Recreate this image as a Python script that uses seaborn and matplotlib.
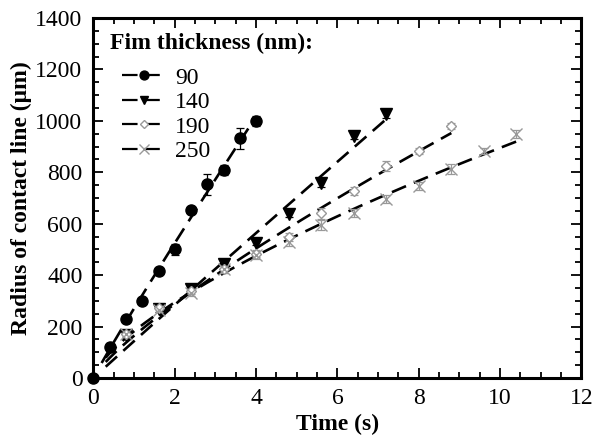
import numpy as np
import pandas as pd
import matplotlib
matplotlib.use("Agg")
import matplotlib.pyplot as plt
from matplotlib.lines import Line2D
from matplotlib.ticker import MultipleLocator
import seaborn as sns

# Contact-line radius (um) vs. time (s) for four film thicknesses
t_90 = [0.0, 0.4, 0.8, 1.2, 1.6, 2.0, 2.4, 2.8, 3.2, 3.6, 4.0]
r_90 = [0, 120, 230, 300, 418, 500, 652, 753, 808, 932, 1000]
e_90 = [0, 15, 10, 10, 10, 20, 10, 40, 20, 40, 20]

t_140 = [0.8, 1.6, 2.4, 3.2, 4.0, 4.8, 5.6, 6.4, 7.2]
r_140 = [167, 267, 345, 442, 526, 636, 758, 941, 1025]
e_140 = [10, 10, 10, 15, 10, 10, 15, 10, 15]

t_190 = [0.8, 1.6, 2.4, 3.2, 4.0, 4.8, 5.6, 6.4, 7.2, 8.0, 8.8]
r_190 = [172, 273, 338, 422, 484, 548, 640, 727, 824, 883, 980]
e_190 = [10, 10, 10, 15, 15, 15, 20, 15, 20, 10, 10]

t_250 = [0.8, 1.6, 2.4, 3.2, 4.0, 4.8, 5.6, 6.4, 7.2, 8.0, 8.8, 9.6, 10.4]
r_250 = [170, 265, 330, 425, 478, 530, 595, 643, 695, 747, 812, 883, 950]
e_250 = [10, 10, 10, 15, 15, 15, 20, 15, 15, 15, 20, 10, 15]

labels = ["90", "140", "190", "250"]
x_ticks = [0, 2, 4, 6, 8, 10, 12]
y_ticks = [0, 200, 400, 600, 800, 1000, 1200, 1400]

GREY = "#999999"
series = [
    (labels[0], t_90, r_90, e_90, "o", "black", "black", 8.0, 0.2),
    (labels[1], t_140, r_140, e_140, "v", "black", "black", 8.0, 0.3),
    (labels[2], t_190, r_190, e_190, "D", "white", GREY, 5.5, 0.3),
    (labels[3], t_250, r_250, e_250, "x", GREY, GREY, 9.0, 0.3),
]


def power_fit(t, r):
    """Least-squares fit of r = a * t**n (grid over n, closed form for a)."""
    best = None
    for n in np.linspace(0.3, 1.6, 1301):
        tn = t ** n
        a = np.sum(r * tn) / np.sum(tn * tn)
        sse = np.sum((r - a * tn) ** 2)
        if best is None or sse < best[0]:
            best = (sse, a, n)
    return best[1], best[2]


sns.set_theme(style="ticks")
plt.rcParams["font.family"] = ["Liberation Serif", "DejaVu Serif"]
plt.rcParams["text.color"] = "black"
plt.rcParams["axes.labelcolor"] = "black"

fig = plt.figure(figsize=(5.94, 4.42), dpi=100)
ax = fig.add_axes([0.1574, 0.1448, 0.8215, 0.8145])

handles = []
for name, t, r, e, mk, fc, ec, ms, t0 in series:
    t = np.asarray(t, float)
    r = np.asarray(r, float)
    a, n = power_fit(t, r)
    tf = np.linspace(t0, t.max(), 200)
    fit = pd.DataFrame({"t": tf, "r": a * tf ** n})
    sns.lineplot(data=fit, x="t", y="r", ax=ax, color="black", lw=1.9,
                 linestyle=(0, (5.8, 3.2)), zorder=2)
    ax.errorbar(t, r, yerr=e, fmt="none", ecolor=ec, elinewidth=0.9,
                capsize=3, capthick=0.9, zorder=3, clip_on=False)
    ax.plot(t, r, linestyle="none", marker=mk, ms=ms, mfc=fc, mec=ec,
            mew=1.0, zorder=4, clip_on=False)
    handles.append(Line2D([], [], color="black", lw=1.6, linestyle=(0, (7, 3)),
                          marker=mk, ms=ms * 0.8, mfc=fc, mec=ec))

ax.set_xlim(0, 12)
ax.set_ylim(0, 1400)
ax.set_xticks(x_ticks)
ax.set_yticks(y_ticks)
ax.xaxis.set_minor_locator(MultipleLocator(0.5))
ax.yaxis.set_minor_locator(MultipleLocator(50))
ax.tick_params(which="both", direction="in", top=True, right=True,
               labelsize=17, colors="black", width=1.3)
ax.tick_params(which="major", length=7)
ax.tick_params(which="minor", length=4)
ax.tick_params(axis="x", pad=7)
ax.tick_params(axis="y", pad=8)
for s in ax.spines.values():
    s.set_linewidth(2.2)
    s.set_color("black")

ax.set_xlabel("Time (s)", fontsize=17, fontweight="bold", labelpad=4,
              color="black")
ax.set_ylabel("Radius of contact line (μm)", fontsize=17, fontweight="bold",
              labelpad=2, color="black")

# legend title drawn as its own text so the entries sit indented below it
fig.text(110 / 594, 1 - 43 / 442, "Fim thickness (nm):", fontsize=17,
         fontweight="bold", ha="left", va="center", color="black")
leg = ax.legend(handles, labels, loc="upper left", frameon=False, fontsize=17,
                handlelength=1.85, handletextpad=0.4, labelspacing=0.13,
                borderpad=0, borderaxespad=0,
                bbox_to_anchor=(122 / 594, 1 - 67 / 442),
                bbox_transform=fig.transFigure)
for txt in leg.get_texts():
    txt.set_color("black")

fig.savefig("out.png", dpi=100)
